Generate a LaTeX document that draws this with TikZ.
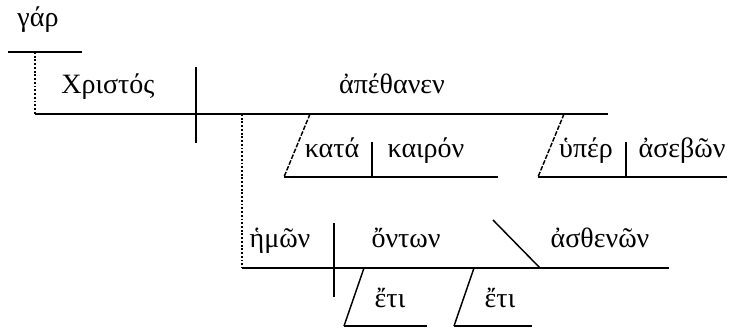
\documentclass[tikz,border=0pt]{standalone}
\usepackage{fontspec}
\setmainfont{Liberation Serif}
\begin{document}
\begin{tikzpicture}[x=0.75pt,y=-0.75pt,
  ln/.style={line width=1.1pt},
  dl/.style={line width=1.4pt,dash pattern=on 1.4pt off 1.4pt},
  sl/.style={line width=1.1pt,dash pattern=on 3.5pt off 1.2pt},
  wd/.style={anchor=base,inner sep=0pt,font=\fontsize{21}{24}\selectfont}]
\useasboundingbox (0,0) rectangle (741,328);
% coordinates
\coordinate (g1) at (8,52); \coordinate (g2) at (82,52);
\coordinate (gd) at (35,52);
\coordinate (m1) at (35,114); \coordinate (m2) at (608,114);
\coordinate (sp1) at (196,67); \coordinate (sp2) at (196,143);
\coordinate (d1) at (242,114); \coordinate (d2) at (242,268);
% kata kairon
\coordinate (k1) at (310,114); \coordinate (k2) at (284,177); \coordinate (k3) at (498,177);
\coordinate (kd1) at (372,142); \coordinate (kd2) at (372,177);
% hyper asebon
\coordinate (h1) at (564,114); \coordinate (h2) at (538,177); \coordinate (h3) at (727,177);
\coordinate (hd1) at (626,142); \coordinate (hd2) at (626,177);
% participle line
\coordinate (p1) at (242,268); \coordinate (p2) at (669,268);
\coordinate (pd1) at (334,223); \coordinate (pd2) at (334,297);
\coordinate (b1) at (493,220); \coordinate (b2) at (540,268);
% eti
\coordinate (e1) at (364,268); \coordinate (e2) at (344,326); \coordinate (e3) at (427,326);
\coordinate (f1) at (474,268); \coordinate (f2) at (454,326); \coordinate (f3) at (532,326);
% lines
\draw[ln] (g1) -- (g2);
\draw[dl] (gd) -- (m1);
\draw[ln] (m1) -- (m2);
\draw[ln] (sp1) -- (sp2);
\draw[dl] (d1) -- (d2);
\draw[sl] (k1) -- (k2);
\draw[ln] (k2) -- (k3);
\draw[ln] (kd1) -- (kd2);
\draw[sl] (h1) -- (h2);
\draw[ln] (h2) -- (h3);
\draw[ln] (hd1) -- (hd2);
\draw[ln] (p1) -- (p2);
\draw[ln] (pd1) -- (pd2);
\draw[ln] (b1) -- (b2);
\draw[ln] (e1) -- (e2);
\draw[ln] (e2) -- (e3);
\draw[ln] (f1) -- (f2);
\draw[ln] (f2) -- (f3);
% words
\node[wd] (gar) at (38,27) {γάρ};
\node[wd] (xr) at (108,93) {Χριστός};
\node[wd] (ape) at (392,93) {ἀπέθανεν};
\node[wd] (kata) at (332,157) {κατά};
\node[wd] (kair) at (426,157) {καιρόν};
\node[wd] (hyp) at (586,157) {ὑπέρ};
\node[wd] (ase) at (682,157) {ἀσεβῶν};
\node[wd] (hem) at (280,247) {ἡμῶν};
\node[wd] (ont) at (406,247) {ὄντων};
\node[wd] (asth) at (600,247) {ἀσθενῶν};
\node[wd] (eti1) at (390,307) {ἔτι};
\node[wd] (eti2) at (500,307) {ἔτι};
\end{tikzpicture}
\end{document}
